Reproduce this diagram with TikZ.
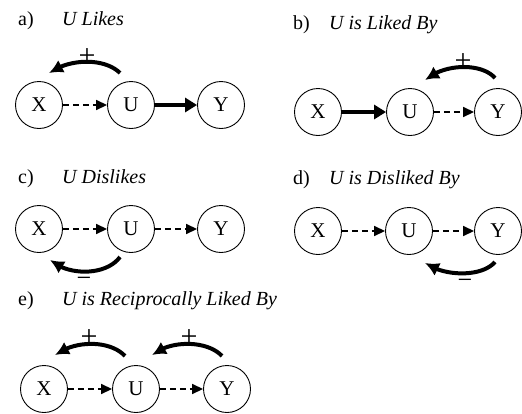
\documentclass[tikz,border=0pt]{standalone}
\usepackage{fontspec}
\setmainfont{Liberation Serif}
\usetikzlibrary{arrows.meta,calc,bending}
\tikzset{
  vert/.style={circle, draw, line width=0.9pt, minimum size=47pt, inner sep=0pt,
    font=\fontsize{21}{21}\selectfont},
  weak/.style={line width=1.6pt, dash pattern=on 6pt off 4pt,
    -{Triangle[length=11pt,width=10pt]}},
  strong/.style={line width=4pt, -{Triangle[length=12pt,width=14pt]}},
  swing/.style={line width=4pt, -{Latex[length=14pt,width=14pt]}},
  caption/.style={anchor=base west, inner sep=0pt, font=\fontsize{20}{20}\selectfont},
  plussign/.style={inner sep=0pt, font=\fontsize{30}{30}\selectfont},
  minussign/.style={anchor=base, inner sep=0pt, font=\fontsize{26}{26}\selectfont},
}
\begin{document}
\begin{tikzpicture}[x=1pt,y=-1pt]
\useasboundingbox (0,0) rectangle (522,413);

% a) U likes
\node[caption] at (18,25) {a)};
\node[caption] at (62,25) {\itshape U Likes};
\node[vert] (aX) at (39,105) {X};
\node[vert] (aU) at (131,105) {U};
\node[vert] (aY) at (221,105) {Y};
\draw[weak] (aX) -- (aU);
\draw[strong] (aU) -- (aY);
\draw[swing] ($(aU)+(-11,-32)$) .. controls ($(aU)+(-26,-47)$) and ($(aX)+(31,-47)$) .. ($(aX)+(10,-32)$);
\node[plussign] at (87,57) {+};

% b) U is liked by
\node[caption] at (293,29) {b)};
\node[caption] at (329,29) {\itshape U is Liked By};
\node[vert] (bX) at (318,112) {X};
\node[vert] (bU) at (410,112) {U};
\node[vert] (bY) at (498,112) {Y};
\draw[strong] (bX) -- (bU);
\draw[weak] (bU) -- (bY);
\draw[swing] ($(bY)+(-3,-34)$) .. controls ($(bY)+(-16,-49)$) and ($(bU)+(35,-49)$) .. ($(bU)+(15,-32)$);
\node[plussign] at (463,62) {+};

% c) U dislikes
\node[caption] at (18,183) {c)};
\node[caption] at (62,183) {\itshape U Dislikes};
\node[vert] (cX) at (39,229) {X};
\node[vert] (cU) at (131,229) {U};
\node[vert] (cY) at (221,229) {Y};
\draw[weak] (cX) -- (cU);
\draw[weak] (cU) -- (cY);
\draw[swing] ($(cU)+(-11,28)$) .. controls ($(cU)+(-25,47)$) and ($(cX)+(29,47)$) .. ($(cX)+(11,31)$);
\node[minussign] at (84,286) {−};

% d) U is disliked by
\node[caption] at (293,184) {d)};
\node[caption] at (329,184) {\itshape U is Disliked By};
\node[vert] (dX) at (318,231) {X};
\node[vert] (dU) at (409,231) {U};
\node[vert] (dY) at (498,231) {Y};
\draw[weak] (dX) -- (dU);
\draw[weak] (dU) -- (dY);
\draw[swing] ($(dY)+(-3,31)$) .. controls ($(dY)+(-16,46)$) and ($(dU)+(36,46)$) .. ($(dU)+(16,32)$);
\node[minussign] at (465,288) {−};

% e) U is reciprocally liked by
\node[caption] at (18,305) {e)};
\node[caption] at (62,305) {\itshape U is Reciprocally Liked By};
\node[vert] (eX) at (44,389) {X};
\node[vert] (eU) at (136,389) {U};
\node[vert] (eY) at (227,389) {Y};
\draw[weak] (eX) -- (eU);
\draw[weak] (eU) -- (eY);
\draw[swing] ($(eU)+(-11,-33)$) .. controls ($(eU)+(-26,-49)$) and ($(eX)+(31,-49)$) .. ($(eX)+(11,-34)$);
\node[plussign] at (89,338) {+};
\draw[swing] ($(eY)+(-5,-33)$) .. controls ($(eY)+(-20,-49)$) and ($(eU)+(34,-49)$) .. ($(eU)+(16,-34)$);
\node[plussign] at (189,338) {+};
\end{tikzpicture}
\end{document}
